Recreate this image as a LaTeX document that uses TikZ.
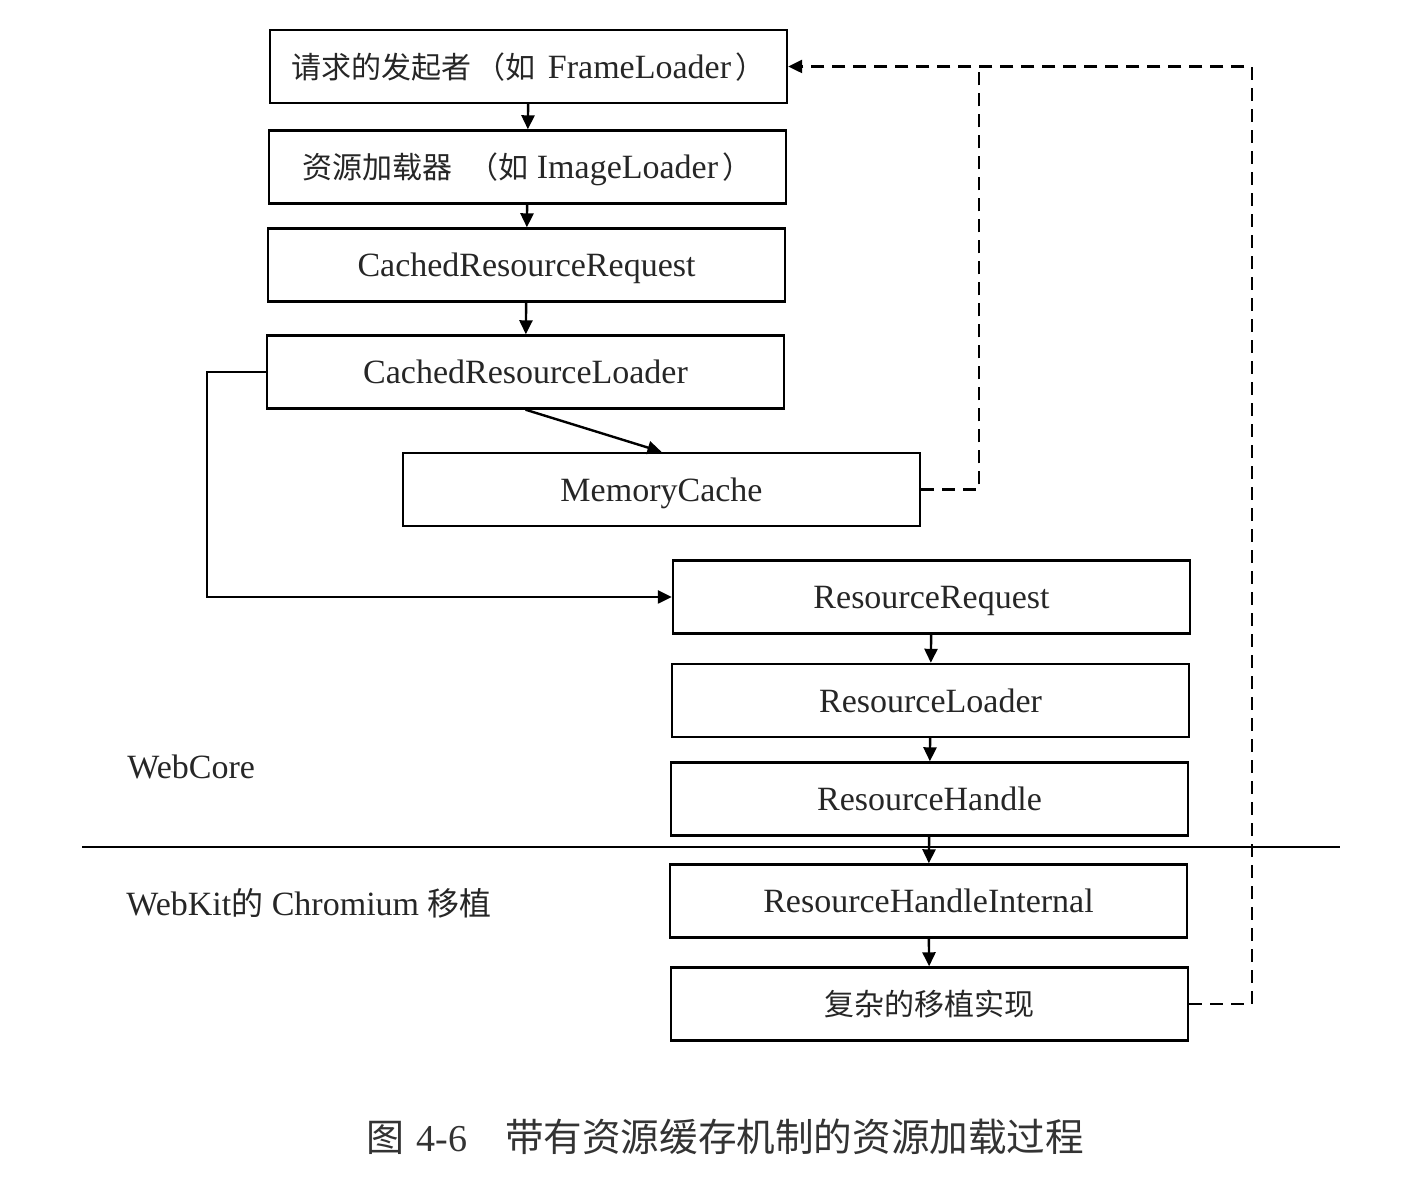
\documentclass[tikz,border=0pt]{standalone}
\usepackage{fontspec}
\setmainfont{Liberation Serif}
\newfontfamily\cjk{Noto Sans CJK SC}
\usetikzlibrary{arrows.meta}
\tikzset{
  box/.style={draw, line width=1.2pt, minimum width=258.5pt, minimum height=36.5pt, inner sep=0pt, text height=16pt, text depth=4pt, font=\fontsize{17}{20}\selectfont, text=black!85},
  flow/.style={line width=1.2pt, -{Triangle[length=7pt,width=6.5pt]}},
  dashline/.style={line width=1.2pt, dash pattern=on 6.5pt off 4pt},
  lbl/.style={inner sep=0pt, anchor=west, font=\fontsize{17}{20}\selectfont, text=black!85}
}
\newcommand{\zhtext}[1]{{\cjk\fontsize{15}{18}\selectfont #1}}
\begin{document}
\begin{tikzpicture}[x=0.5pt,y=-0.5pt]
\useasboundingbox (0,0) rectangle (1426,1186);
\node[box] (b1) at (528.5,66.5) {\zhtext{请求的发起者\hspace{2pt}（如}\hspace{6pt}FrameLoader\hspace{2pt}\zhtext{）}};
\node[box] (b2) at (527.5,167) {\zhtext{资源加载器\hspace{8pt}（如}\hspace{4pt}ImageLoader\hspace{2pt}\zhtext{）}};
\node[box] (b3) at (526.5,265) {CachedResourceRequest};
\node[box] (b4) at (525.5,372) {CachedResourceLoader};
\node[box] (b5) at (661.5,489.5) {MemoryCache};
\node[box] (b6) at (931.5,597) {ResourceRequest};
\node[box] (b7) at (930.5,700.5) {ResourceLoader};
\node[box] (b8) at (929.5,799) {ResourceHandle};
\node[box] (b9) at (928.5,901) {ResourceHandleInternal};
\node[box] (b10) at (929.5,1004) {\zhtext{复杂的移植实现}};

\draw[line width=0.8pt] (82,847) -- (1340,847);
\node[lbl] (webcore) at (127,767) {WebCore};
\node[lbl] (webkit) at (126,903) {WebKit{\cjk\fontsize{16}{18}\selectfont 的} Chromium {\cjk\fontsize{16}{18}\selectfont 移植}};

\draw[flow] (b1) -- (b2);
\draw[flow] (b2) -- (b3);
\draw[flow] (b3) -- (b4);
\draw[flow] (b4.south) -- (b5.north);
\draw[flow] (b4.west) -- (207,372) |- (b6.west);
\draw[flow] (b6) -- (b7);
\draw[flow] (b7) -- (b8);
\draw[flow] (b8) -- (b9);
\draw[flow] (b9) -- (b10);

\coordinate (d1) at (979,489.5);
\coordinate (d2) at (979,66.5);
\coordinate (d3) at (1252,1004);
\draw[dashline] (b5.east) -- (d1) -- (d2);
\draw[dashline, -{Triangle[length=7pt,width=6.5pt]}] (b10.east) -- (d3) |- (b1.east);

\node[inner sep=0pt, anchor=west, text=black!80] (cap) at (366,1137) {{\cjk\fontsize{19}{24}\selectfont 图}\hspace{6pt}{\fontsize{19}{24}\selectfont 4-6}\hspace{19pt}{\cjk\fontsize{19.3}{24}\selectfont 带有资源缓存机制的资源加载过程}};
\end{tikzpicture}
\end{document}
